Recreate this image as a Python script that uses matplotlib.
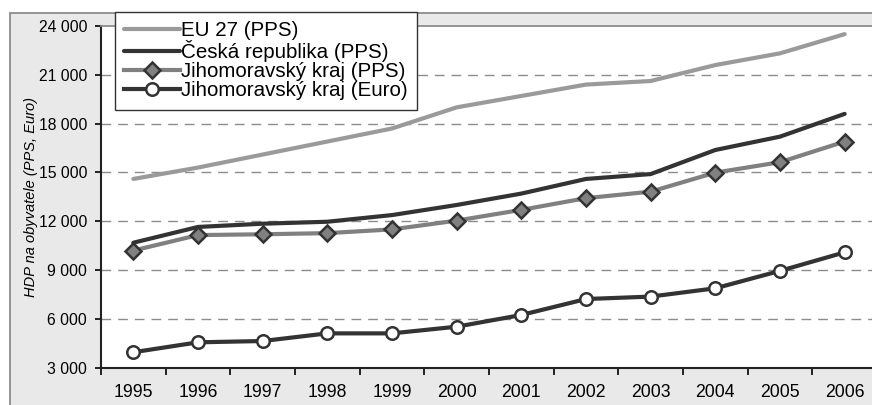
import numpy as np
import matplotlib
matplotlib.use("Agg")
import matplotlib.pyplot as plt
from matplotlib.patches import Rectangle

plt.rcParams['font.family'] = ['Liberation Sans', 'DejaVu Sans']

years = [1995, 1996, 1997, 1998, 1999, 2000, 2001, 2002, 2003, 2004, 2005, 2006]
eu27_pps = [14600, 15300, 16100, 16900, 17700, 19000, 19700, 20400, 20620, 21600, 22320, 23500]
cr_pps = [10680, 11650, 11850, 11970, 12380, 13000, 13700, 14600, 14900, 16380, 17200, 18600]
jmk_pps = [10200, 11150, 11200, 11270, 11500, 12040, 12700, 13420, 13820, 14990, 15630, 16900]
jmk_euro = [3950, 4560, 4640, 5110, 5110, 5520, 6240, 7220, 7370, 7880, 8950, 10090]
labels = ["EU 27 (PPS)", "Česká republika (PPS)",
          "Jihomoravský kraj (PPS)", "Jihomoravský kraj (Euro)"]
yticks = [3000, 6000, 9000, 12000, 15000, 18000, 21000, 24000]

W, H = 872, 405
fig = plt.figure(figsize=(W / 100, H / 100), dpi=100, facecolor="white")

# outer chart area (gray, cropped at right and bottom)
fig.patches.append(Rectangle((9.5 / W, -0.1), 1.1, 1 - 12.5 / H + 0.1,
                             transform=fig.transFigure, facecolor="#e9e9e9",
                             edgecolor="#8c8c8c", linewidth=1.3, zorder=-10))

ax = fig.add_axes([101 / W, 1 - 367.7 / H, 776 / W, (367.7 - 26) / H])
ax.set_facecolor("white")

x = np.arange(len(years))
ax.plot(x, eu27_pps, color="#9a9a9a", lw=3, solid_capstyle="round", label=labels[0], zorder=3)
ax.plot(x, cr_pps, color="#333333", lw=3, solid_capstyle="round", label=labels[1], zorder=3)
ax.plot(x, jmk_pps, color="#808080", lw=3, marker="D", ms=8, mfc="#808080",
        mec="#333333", mew=1.8, label=labels[2], zorder=4)
ax.plot(x, jmk_euro, color="#333333", lw=3, marker="o", ms=9, mfc="white",
        mec="#333333", mew=1.8, label=labels[3], zorder=4)

ax.set_xlim(-0.5, len(years) - 0.5)
ax.set_ylim(3000, 24000)
ax.set_yticks(yticks)
ax.set_yticklabels([f"{v:,}".replace(",", " ") for v in yticks])
ax.set_xticks(x)
ax.set_xticklabels([str(y) for y in years])
ax.set_xticks(np.arange(-0.5, len(years)), minor=True)
ax.tick_params(axis="x", which="major", length=0, pad=12, labelsize=12.7)
ax.tick_params(axis="x", which="minor", length=5, width=1.4, color="#222222", direction="out")
ax.tick_params(axis="y", length=4, width=1.4, color="#222222", pad=6, labelsize=11.3)

for v in yticks[1:-1]:
    ax.axhline(v, color="#8c8c8c", lw=1, ls=(0, (7, 5)), zorder=1)

for s in ["left", "bottom"]:
    ax.spines[s].set_color("#222222")
    ax.spines[s].set_linewidth(1.5)
ax.spines["top"].set_color("#8c8c8c")
ax.spines["top"].set_linewidth(1.3)
ax.spines["right"].set_visible(False)

ax.set_ylabel("HDP na obyvatele (PPS, Euro)", fontsize=10.5, style="italic")
ax.yaxis.set_label_coords(-63 / 776, 0.5)

leg = ax.legend(loc="upper left", bbox_to_anchor=(115 / W, 1 - 12 / H),
                bbox_transform=fig.transFigure, borderaxespad=0, fontsize=14.8,
                frameon=True, fancybox=False, framealpha=1, edgecolor="#333333",
                handlelength=2.7, handletextpad=0.05, labelspacing=0.0,
                borderpad=0.45)
leg.get_frame().set_linewidth(1)
leg.set_zorder(10)

fig.savefig("out.png", dpi=100, facecolor="white")
